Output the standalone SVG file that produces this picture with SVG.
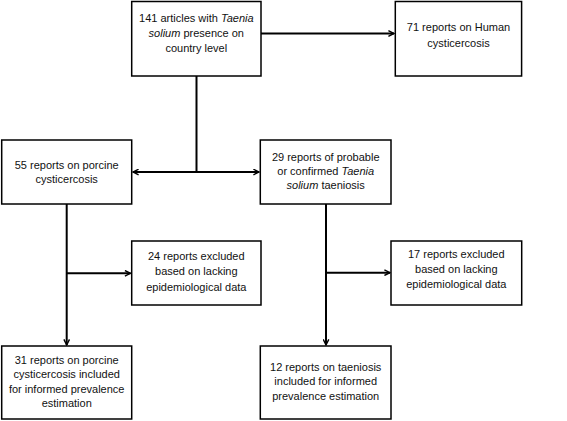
<svg xmlns="http://www.w3.org/2000/svg" width="567" height="421" viewBox="0 0 567 421">
<defs>
<style>
.box{fill:#fff;stroke:#000;stroke-width:1.5}
.t{font-family:"Liberation Sans",Arial,sans-serif;font-size:11px;fill:#111;text-anchor:middle}
.c{fill:none;stroke:#000;stroke-width:2}
</style>
<marker id="ah" viewBox="0 0 10 10" refX="9" refY="5" markerWidth="7" markerHeight="7" markerUnits="userSpaceOnUse" orient="auto-start-reverse">
<path d="M1,1 L9,5 L1,9" fill="none" stroke="#000" stroke-width="2"/>
</marker>
</defs>
<rect width="567" height="421" fill="#fff"/>
<g id="connectors">
<line class="c" x1="261" y1="33.5" x2="394" y2="33.5" marker-end="url(#ah)"/>
<line class="c" x1="196.5" y1="76" x2="196.5" y2="172"/>
<line class="c" x1="133" y1="172" x2="259" y2="172" marker-start="url(#ah)" marker-end="url(#ah)"/>
<line class="c" x1="66.7" y1="204" x2="66.7" y2="345" marker-end="url(#ah)"/>
<line class="c" x1="66.7" y1="273.3" x2="130.5" y2="273.3" marker-end="url(#ah)"/>
<line class="c" x1="326" y1="204" x2="326" y2="345" marker-end="url(#ah)"/>
<line class="c" x1="326" y1="272.7" x2="390" y2="272.7" marker-end="url(#ah)"/>
</g>
<g id="n141">
<rect class="box" x="131.7" y="1.5" width="129.3" height="74.5"/>
<text class="t" x="196.3" y="22.3">141 articles with <tspan font-style="italic">Taenia</tspan></text>
<text class="t" x="196.3" y="37.3"><tspan font-style="italic">solium</tspan> presence on</text>
<text class="t" x="196.3" y="52.3">country level</text>
</g>
<g id="n71">
<rect class="box" x="395.3" y="1.5" width="126.3" height="74.5"/>
<text class="t" x="458.5" y="31.3">71 reports on Human</text>
<text class="t" x="458.5" y="46.7">cysticercosis</text>
</g>
<g id="n55">
<rect class="box" x="1.7" y="140" width="130" height="64"/>
<text class="t" x="66.7" y="169">55 reports on porcine</text>
<text class="t" x="66.7" y="183.3">cysticercosis</text>
</g>
<g id="n29">
<rect class="box" x="260.3" y="140" width="130.7" height="64"/>
<text class="t" x="325.7" y="160.7">29 reports of probable</text>
<text class="t" x="325.7" y="174.7">or confirmed <tspan font-style="italic">Taenia</tspan></text>
<text class="t" x="325.7" y="189"><tspan font-style="italic">solium</tspan> taeniosis</text>
</g>
<g id="n24">
<rect class="box" x="131.7" y="241" width="129.3" height="64"/>
<text class="t" x="196.3" y="260">24 reports excluded</text>
<text class="t" x="196.3" y="274.7">based on lacking</text>
<text class="t" x="196.3" y="290.7">epidemiological data</text>
</g>
<g id="n17">
<rect class="box" x="391" y="241" width="130.7" height="64"/>
<text class="t" x="456.3" y="258.3">17 reports excluded</text>
<text class="t" x="456.3" y="273.3">based on lacking</text>
<text class="t" x="456.3" y="288.3">epidemiological data</text>
</g>
<g id="n31">
<rect class="box" x="1.7" y="346" width="130" height="73"/>
<text class="t" x="66.7" y="364">31 reports on porcine</text>
<text class="t" x="66.7" y="378.3">cysticercosis included</text>
<text class="t" x="66.7" y="393">for informed prevalence</text>
<text class="t" x="66.7" y="407.3">estimation</text>
</g>
<g id="n12">
<rect class="box" x="260.3" y="346" width="130.7" height="73"/>
<text class="t" x="325.7" y="370.7">12 reports on taeniosis</text>
<text class="t" x="325.7" y="385">included for informed</text>
<text class="t" x="325.7" y="399.7">prevalence estimation</text>
</g>
</svg>
